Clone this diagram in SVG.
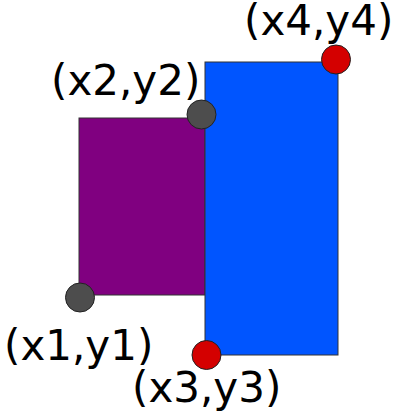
<svg xmlns="http://www.w3.org/2000/svg" width="417" height="417" viewBox="0 0 417 417">
<style>
.r{stroke:#333;stroke-width:1}
.p{stroke:#222;stroke-width:1}
.gray{fill:#4d4d4d}
.red{fill:#d40000}
text{font-family:"DejaVu Sans",sans-serif;font-size:42px;fill:#000}
</style>
<rect width="417" height="417" fill="#fff"/>
<g id="purple"><rect class="r" x="79" y="118" width="126" height="177" fill="#800080"/></g>
<g id="blue"><rect class="r" x="205" y="62" width="133" height="293" fill="#0055ff"/></g>
<g id="p1"><circle class="p gray" cx="80" cy="297.5" r="14.5"/><text x="4" y="360">(x1,y1)</text></g>
<g id="p2"><circle class="p gray" cx="201.5" cy="114.5" r="14.5"/><text x="51" y="95">(x2,y2)</text></g>
<g id="p3"><circle class="p red" cx="206.5" cy="355" r="14.5"/><text x="132" y="402">(x3,y3)</text></g>
<g id="p4"><circle class="p red" cx="336" cy="59.5" r="14.5"/><text x="244" y="35">(x4,y4)</text></g>
<g id="connectors"/>
</svg>
